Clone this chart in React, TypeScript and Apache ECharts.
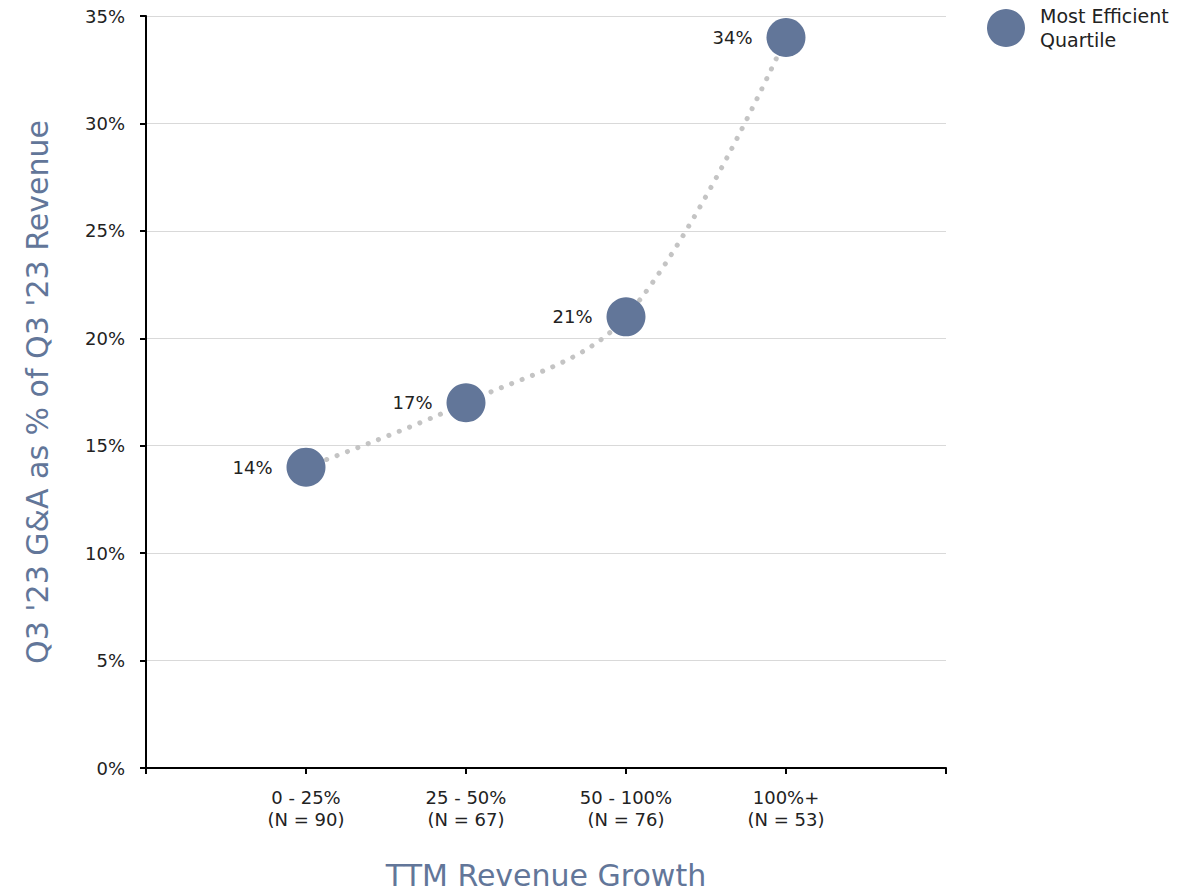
import React, { useEffect, useRef } from "react";
import * as echarts from "echarts";

const categories = ["", "0 - 25%\n(N = 90)", "25 - 50%\n(N = 67)", "50 - 100%\n(N = 76)", "100%+\n(N = 53)", ""];
const values: (number | string)[] = ["-", 14, 17, 21, 34, "-"];
const yTicks = [0, 5, 10, 15, 20, 25, 30, 35];
const seriesName = "Most Efficient Quartile";
const xTitle = "TTM Revenue Growth";
const yTitle = "Q3 '23 G&A as % of Q3 '23 Revenue";

const ACCENT = "#627699";
const FONT = "'DejaVu Sans', 'Noto Sans', sans-serif";

export default function App() {
  const ref = useRef<HTMLDivElement>(null);
  useEffect(() => {
    document.body.style.margin = "0";
    document.body.style.overflow = "hidden";
    const chart = echarts.init(ref.current!, null, { renderer: "svg" });
    chart.setOption({
      animation: false,
      backgroundColor: "#ffffff",
      grid: { left: 146, right: 242, top: 16, bottom: 124, containLabel: false },
      legend: {
        show: true,
        data: [{ name: seriesName, icon: "circle" }],
        left: 987,
        top: 4,
        padding: 0,
        itemWidth: 38,
        itemHeight: 38,
        itemGap: 0,
        formatter: () => "Most Efficient\nQuartile",
        textStyle: { fontFamily: FONT, fontSize: 19, color: "#222", lineHeight: 24, padding: [0, 0, 0, 10] },
      },
      xAxis: {
        type: "category",
        data: categories,
        boundaryGap: false,
        name: xTitle,
        nameLocation: "middle",
        nameGap: 107,
        nameTextStyle: { fontFamily: FONT, fontSize: 30, color: ACCENT, verticalAlign: "middle", lineHeight: 30 },
        axisLine: { lineStyle: { color: "#000", width: 2 } },
        axisTick: { show: true, length: 6, lineStyle: { color: "#000", width: 2 }, interval: 0 },
        axisLabel: { interval: 0, margin: 18, fontFamily: FONT, fontSize: 18, color: "#222", lineHeight: 22 },
        splitLine: { show: false },
      },
      yAxis: {
        type: "value",
        min: yTicks[0],
        max: yTicks[yTicks.length - 1],
        interval: 5,
        name: yTitle,
        nameLocation: "middle",
        nameGap: 94,
        nameRotate: 90,
        nameTextStyle: { fontFamily: FONT, fontSize: 30, color: ACCENT },
        axisLine: { show: true, lineStyle: { color: "#000", width: 2 } },
        axisTick: { show: true, length: 6, lineStyle: { color: "#000", width: 2 } },
        axisLabel: { margin: 21, fontFamily: FONT, fontSize: 18, color: "#222", formatter: "{value}%" },
        splitLine: { show: true, lineStyle: { color: "#d9d9d9", width: 1 } },
      },
      series: [
        {
          type: "line",
          name: "trend",
          data: values,
          smooth: 0.35,
          symbol: "none",
          connectNulls: false,
          lineStyle: { color: "#c4c4c4", width: 5, type: [0.1, 11], cap: "round" },
          z: 1,
          silent: true,
        },
        {
          type: "scatter",
          name: seriesName,
          data: values,
          symbol: "circle",
          symbolSize: 39,
          itemStyle: { color: ACCENT, opacity: 1 },
          z: 3,
          label: {
            show: true,
            position: "left",
            distance: 14,
            formatter: (p: any) => `${p.value}%`,
            fontFamily: FONT,
            fontSize: 18,
            color: "#222",
          },
        },
      ],
    });
    return () => chart.dispose();
  }, []);
  return <div ref={ref} style={{ width: 1188, height: 895 }} />;
}
